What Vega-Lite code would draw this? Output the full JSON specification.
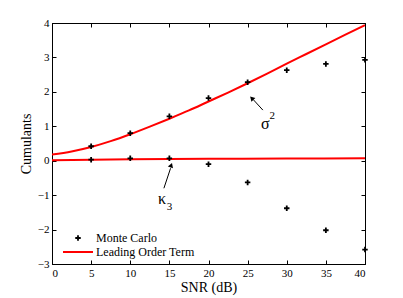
{
  "$schema": "https://vega.github.io/schema/vega-lite/v6.json",
  "width": 313,
  "height": 241,
  "autosize": {"type": "none"},
  "padding": {"left": 52, "top": 23, "right": 38, "bottom": 34},
  "background": "white",
  "config": {
    "view": {"stroke": "black", "strokeWidth": 1},
    "font": "Liberation Serif",
    "axis": {
      "grid": false,
      "domainColor": "black",
      "tickColor": "black",
      "tickSize": -4,
      "labelFont": "Liberation Serif",
      "labelFontSize": 11,
      "labelColor": "black",
      "titleFont": "Liberation Serif",
      "titleFontSize": 14,
      "titleFontWeight": "normal",
      "titleColor": "black"
    }
  },
  "datasets": {
    "curves": [
      {"snr": 0, "value": 0.18, "curve": "sigma2"},
      {"snr": 2.5, "value": 0.27, "curve": "sigma2"},
      {"snr": 5, "value": 0.4, "curve": "sigma2"},
      {"snr": 7.5, "value": 0.57, "curve": "sigma2"},
      {"snr": 10, "value": 0.77, "curve": "sigma2"},
      {"snr": 12.5, "value": 0.99, "curve": "sigma2"},
      {"snr": 15, "value": 1.22, "curve": "sigma2"},
      {"snr": 17.5, "value": 1.46, "curve": "sigma2"},
      {"snr": 20, "value": 1.72, "curve": "sigma2"},
      {"snr": 22.5, "value": 1.98, "curve": "sigma2"},
      {"snr": 25, "value": 2.25, "curve": "sigma2"},
      {"snr": 27.5, "value": 2.53, "curve": "sigma2"},
      {"snr": 30, "value": 2.82, "curve": "sigma2"},
      {"snr": 32.5, "value": 3.1, "curve": "sigma2"},
      {"snr": 35, "value": 3.38, "curve": "sigma2"},
      {"snr": 37.5, "value": 3.66, "curve": "sigma2"},
      {"snr": 40, "value": 3.94, "curve": "sigma2"},
      {"snr": 0, "value": 0.01, "curve": "kappa3"},
      {"snr": 10, "value": 0.04, "curve": "kappa3"},
      {"snr": 20, "value": 0.055, "curve": "kappa3"},
      {"snr": 30, "value": 0.065, "curve": "kappa3"},
      {"snr": 40, "value": 0.07, "curve": "kappa3"}
    ],
    "mc": [
      {"snr": 5, "value": 0.42, "series": "Monte Carlo"},
      {"snr": 10, "value": 0.8, "series": "Monte Carlo"},
      {"snr": 15, "value": 1.29, "series": "Monte Carlo"},
      {"snr": 20, "value": 1.82, "series": "Monte Carlo"},
      {"snr": 25, "value": 2.28, "series": "Monte Carlo"},
      {"snr": 30, "value": 2.63, "series": "Monte Carlo"},
      {"snr": 35, "value": 2.81, "series": "Monte Carlo"},
      {"snr": 40, "value": 2.93, "series": "Monte Carlo"},
      {"snr": 5, "value": 0.03, "series": "Monte Carlo"},
      {"snr": 10, "value": 0.07, "series": "Monte Carlo"},
      {"snr": 15, "value": 0.07, "series": "Monte Carlo"},
      {"snr": 20, "value": -0.1, "series": "Monte Carlo"},
      {"snr": 25, "value": -0.63, "series": "Monte Carlo"},
      {"snr": 30, "value": -1.38, "series": "Monte Carlo"},
      {"snr": 35, "value": -2.02, "series": "Monte Carlo"},
      {"snr": 40, "value": -2.58, "series": "Monte Carlo"}
    ],
    "one": [{}]
  },
  "resolve": {"axis": {"x": "independent", "y": "independent"}},
  "layer": [
    {
      "data": {"name": "curves"},
      "mark": {"type": "line", "stroke": "#ff0000", "strokeWidth": 2, "interpolate": "monotone", "clip": true},
      "encoding": {
        "x": {"field": "snr", "type": "quantitative", "scale": {"domain": [0, 40], "nice": false},
          "axis": {"orient": "bottom", "title": "SNR (dB)", "values": [0,5,10,15,20,25,30,35,40], "labelPadding": 7, "titlePadding": 2}},
        "y": {"field": "value", "type": "quantitative", "scale": {"domain": [-3, 4], "nice": false},
          "axis": {"orient": "left", "title": "Cumulants", "values": [-3,-2,-1,0,1,2,3,4], "labelPadding": 7, "titlePadding": 4}},
        "detail": {"field": "curve"}
      }
    },
    {
      "data": {"name": "curves"},
      "mark": {"type": "line", "opacity": 0},
      "encoding": {
        "x": {"field": "snr", "type": "quantitative",
          "axis": {"orient": "top", "title": null, "labels": false, "values": [0,5,10,15,20,25,30,35,40]}},
        "y": {"field": "value", "type": "quantitative",
          "axis": {"orient": "right", "title": null, "labels": false, "values": [-3,-2,-1,0,1,2,3,4]}},
        "detail": {"field": "curve"}
      }
    },
    {
      "data": {"name": "mc"},
      "mark": {"type": "point", "filled": false, "strokeWidth": 1.8, "opacity": 1},
      "encoding": {
        "x": {"field": "snr", "type": "quantitative", "axis": null},
        "y": {"field": "value", "type": "quantitative", "axis": null},
        "color": {"field": "series", "type": "nominal",
          "scale": {"domain": ["Monte Carlo", "Leading Order Term"], "range": ["black", "#ff0000"]},
          "legend": {"orient": "none", "legendX": 10, "legendY": 209, "title": null, "padding": 0,
            "labelFont": "Liberation Serif", "labelFontSize": 12, "labelColor": "black",
            "labelOffset": 2, "rowPadding": 2, "clipHeight": 12, "symbolStrokeWidth": 1.8, "symbolOpacity": 1}},
        "shape": {"field": "series", "type": "nominal",
          "scale": {"domain": ["Monte Carlo", "Leading Order Term"], "range": ["M-1,0H1M0,-1V1", "stroke"]}},
        "size": {"field": "series", "type": "nominal",
          "scale": {"domain": ["Monte Carlo", "Leading Order Term"], "range": [30, 900]}}
      }
    },
    {
      "data": {"name": "one"},
      "mark": {"type": "rule", "color": "black", "strokeWidth": 1},
      "encoding": {
        "x": {"datum": 26.95, "type": "quantitative", "axis": null},
        "y": {"datum": 1.47, "type": "quantitative", "axis": null},
        "x2": {"datum": 25.7},
        "y2": {"datum": 1.78}
      }
    },
    {
      "data": {"name": "one"},
      "mark": {"type": "point", "shape": "triangle", "filled": true, "color": "black", "size": 30, "angle": 317, "opacity": 1},
      "encoding": {
        "x": {"datum": 25.6, "type": "quantitative", "axis": null},
        "y": {"datum": 1.8, "type": "quantitative", "axis": null}
      }
    },
    {
      "data": {"name": "one"},
      "mark": {"type": "rule", "color": "black", "strokeWidth": 1},
      "encoding": {
        "x": {"datum": 14.3, "type": "quantitative", "axis": null},
        "y": {"datum": -0.8, "type": "quantitative", "axis": null},
        "x2": {"datum": 15.15},
        "y2": {"datum": -0.22}
      }
    },
    {
      "data": {"name": "one"},
      "mark": {"type": "point", "shape": "triangle", "filled": true, "color": "black", "size": 30, "angle": 19, "opacity": 1},
      "encoding": {
        "x": {"datum": 15.2, "type": "quantitative", "axis": null},
        "y": {"datum": -0.15, "type": "quantitative", "axis": null}
      }
    },
    {
      "data": {"name": "one"},
      "mark": {"type": "text", "font": "Liberation Serif", "fontSize": 16, "color": "black", "align": "center", "baseline": "middle"},
      "encoding": {
        "x": {"datum": 27.25, "type": "quantitative", "axis": null},
        "y": {"datum": 1.07, "type": "quantitative", "axis": null},
        "text": {"value": "σ"}
      }
    },
    {
      "data": {"name": "one"},
      "mark": {"type": "text", "font": "Liberation Serif", "fontSize": 11, "color": "black", "align": "center", "baseline": "middle"},
      "encoding": {
        "x": {"datum": 28.15, "type": "quantitative", "axis": null},
        "y": {"datum": 1.31, "type": "quantitative", "axis": null},
        "text": {"value": "2"}
      }
    },
    {
      "data": {"name": "one"},
      "mark": {"type": "text", "font": "Liberation Serif", "fontSize": 16, "color": "black", "align": "center", "baseline": "middle"},
      "encoding": {
        "x": {"datum": 14.05, "type": "quantitative", "axis": null},
        "y": {"datum": -1.12, "type": "quantitative", "axis": null},
        "text": {"value": "κ"}
      }
    },
    {
      "data": {"name": "one"},
      "mark": {"type": "text", "font": "Liberation Serif", "fontSize": 11, "color": "black", "align": "center", "baseline": "middle"},
      "encoding": {
        "x": {"datum": 15.0, "type": "quantitative", "axis": null},
        "y": {"datum": -1.35, "type": "quantitative", "axis": null},
        "text": {"value": "3"}
      }
    }
  ]
}
